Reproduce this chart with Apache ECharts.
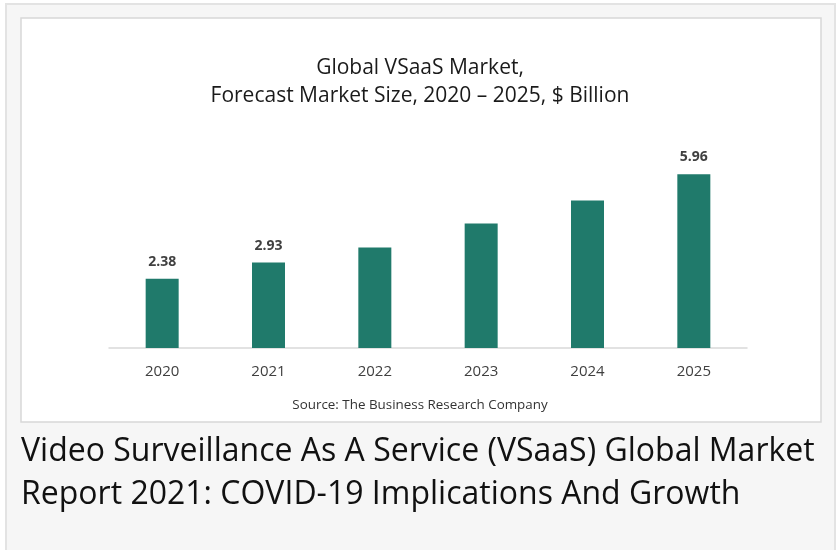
<!DOCTYPE html>
<html>
<head>
<meta charset="utf-8">
<script src="https://cdn.jsdelivr.net/npm/echarts@6/dist/echarts.min.js"></script>
<style>
  html, body { margin: 0; padding: 0; background: #ffffff; }
  #chart { width: 838px; height: 550px; }
</style>
</head>
<body>
<div id="chart"></div>
<script>
// ---- data ----
var years = ['2020', '2021', '2022', '2023', '2024', '2025'];
var marketSize = [2.38, 2.93, 3.45, 4.27, 5.06, 5.96];
var showValue = [true, true, false, false, false, true];
var titleLines = ['Global VSaaS Market,', 'Forecast Market Size, 2020 \u2013 2025, $ Billion'];
var sourceText = 'Source: The Business Research Company';
var headingLines = ['Video Surveillance As A Service (VSaaS) Global Market', 'Report 2021: COVID-19 Implications And Growth'];

var chart = echarts.init(document.getElementById('chart'), null, { renderer: 'canvas' });

var barData = marketSize.map(function (v, i) {
  return { value: v, label: { show: showValue[i] } };
});

var option = {
  animation: false,
  backgroundColor: '#ffffff',
  graphic: [
    { type: 'rect', z: -20, silent: true,
      shape: { x: 6, y: 4, width: 829, height: 580 },
      style: { fill: '#f6f6f6', stroke: '#e3e3e3', lineWidth: 2 } },
    { type: 'rect', z: -10, silent: true,
      shape: { x: 21, y: 18, width: 800, height: 404 },
      style: { fill: '#ffffff', stroke: '#d8d8d8', lineWidth: 1.5 } },
    { type: 'text', z: 10, x: 420, y: 68, scaleX: 1.0,
      style: { text: titleLines[0], font: '21px "Open Sans"', fill: '#1a1a1a', textAlign: 'center', textVerticalAlign: 'middle' } },
    { type: 'text', z: 10, x: 420, y: 96, scaleX: 1.0,
      style: { text: titleLines[1], font: '21px "Open Sans"', fill: '#1a1a1a', textAlign: 'center', textVerticalAlign: 'middle' } },
    { type: 'text', z: 10, x: 420, y: 405, scaleX: 1.03,
      style: { text: sourceText, font: '13px "Open Sans"', fill: '#333333', textAlign: 'center', textVerticalAlign: 'middle' } },
    { type: 'text', z: 10, x: 21, y: 452, scaleX: 0.97,
      style: { text: headingLines[0], font: '33px "Open Sans"', fill: '#111111', textAlign: 'left', textVerticalAlign: 'middle' } },
    { type: 'text', z: 10, x: 21, y: 495, scaleX: 0.97,
      style: { text: headingLines[1], font: '33px "Open Sans"', fill: '#111111', textAlign: 'left', textVerticalAlign: 'middle' } }
  ],
  grid: { left: 109, right: 91, top: 144, bottom: 202, containLabel: false },
  xAxis: {
    type: 'category',
    data: years,
    axisLine: { show: true, lineStyle: { color: '#d9d9d9', width: 1.5 } },
    axisTick: { show: false },
    axisLabel: { color: '#404040', fontSize: 15, fontFamily: 'Open Sans', margin: 16 }
  },
  yAxis: {
    type: 'value',
    min: 0,
    max: 7,
    show: false,
    splitLine: { show: false }
  },
  series: [{
    type: 'bar',
    data: barData,
    barWidth: 33,
    itemStyle: { color: '#207a6b' },
    label: {
      position: 'top',
      distance: 10,
      color: '#404040',
      fontSize: 14,
      fontWeight: 'bold',
      fontFamily: 'Open Sans',
      formatter: function (p) { return p.value.toFixed(2); }
    }
  }]
};
chart.setOption(option);
</script>
</body>
</html>
